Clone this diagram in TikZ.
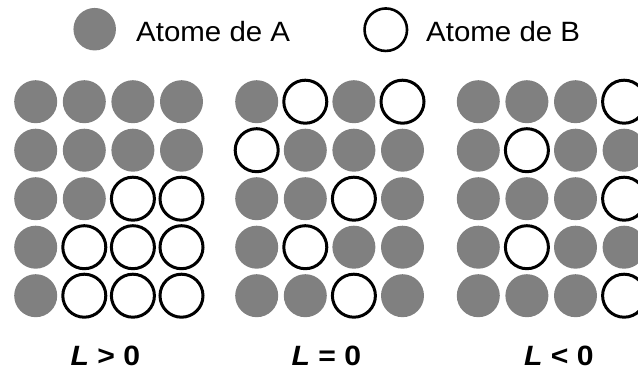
\documentclass[tikz,border=0pt]{standalone}
\usepackage{fontspec}
\setmainfont{Liberation Sans}
\definecolor{atomgray}{RGB}{128,128,128}
\begin{document}
\begin{tikzpicture}[x=1pt,y=-1pt,
  atomA/.style={circle,fill=atomgray,inner sep=0pt,outer sep=0pt,minimum size=43pt},
  atomB/.style={circle,draw=black,fill=white,line width=3pt,inner sep=0pt,outer sep=0pt,minimum size=43pt},
  legendtext/.style={anchor=base west,inner sep=0pt,font=\fontsize{27.9pt}{30pt}\selectfont},
  caselabel/.style={anchor=base west,inner sep=0pt,text depth=0pt,font=\fontsize{27.9pt}{30pt}\selectfont\bfseries}]
\useasboundingbox (0,0) rectangle (638,369);
% legend
\node[atomA,minimum size=42.5pt] (legA) at (94.7,29.2) {};
\node[legendtext] (legAtext) at (136,41.7) {\scalebox{1.056}[1]{Atome de A}};
\node[atomB,line width=2.6pt,minimum size=42.5pt] (legB) at (385.8,29.7) {};
\node[legendtext] (legBtext) at (426,41.7) {\scalebox{1.056}[1]{Atome de B}};
% grids
\foreach \g/\x/\pat in {1/35.7/{A,A,A,A, A,A,A,A, A,A,B,B, A,B,B,B, A,B,B,B},
                        2/256.7/{A,B,A,B, B,A,A,A, A,A,B,A, A,B,A,A, A,A,B,A},
                        3/478.3/{A,A,A,B, A,B,A,A, A,A,A,B, A,B,A,A, A,A,A,B}}{
  \foreach \typ [count=\i from 0] in \pat {
    \pgfmathtruncatemacro{\r}{div(\i,4)}
    \pgfmathtruncatemacro{\c}{mod(\i,4)}
    \if\typ A
      \node[atomA] (g\g-\r-\c) at (\x+48.6*\c,101.7+48.5*\r) {};
    \else
      \node[atomB] (g\g-\r-\c) at (\x+48.6*\c,101.7+48.5*\r) {};
    \fi
  }
}
% labels
\node[caselabel] (lab1) at (70.5,365) {\scalebox{1.08}[1]{\textit{L} > 0}};
\node[caselabel] (lab2) at (291.5,365) {\scalebox{1.08}[1]{\textit{L} = 0}};
\node[caselabel] (lab3) at (524,365) {\scalebox{1.08}[1]{\textit{L} < 0}};
\end{tikzpicture}
\end{document}
